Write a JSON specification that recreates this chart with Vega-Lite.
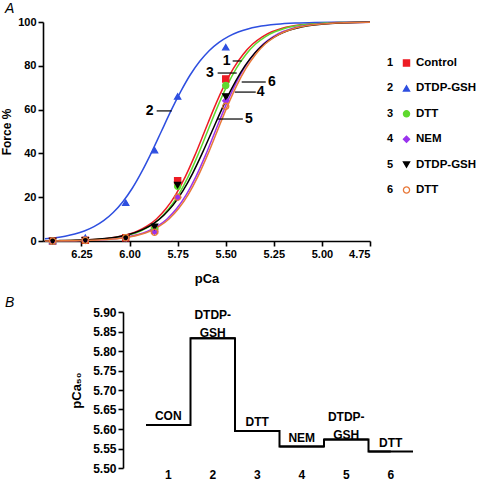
{
 "$schema": "https://vega.github.io/schema/vega-lite/v6.json",
 "padding": {"left": 0, "top": 2, "right": 0, "bottom": 0},
 "background": "white",
 "config": {
  "view": {"stroke": null},
  "font": "Liberation Sans",
  "axis": {"grid": false, "domainColor": "#000", "tickColor": "#000", "labelColor": "#000", "titleColor": "#000", "labelFontWeight": "bold", "titleFontWeight": "bold", "domainWidth": 1.6, "tickWidth": 1.6, "labelFont": "Liberation Sans", "titleFont": "Liberation Sans"},
  "title": {"font": "Liberation Sans", "color": "#000"}
 },
 "datasets": {
  "curves": [
   {"s":"1","p":6.44,"f":0.07},{"s":"1","p":6.41,"f":0.09},{"s":"1","p":6.31,"f":0.22},{"s":"1","p":6.21,"f":0.52},{"s":"1","p":6.11,"f":1.24},{"s":"1","p":6.06,"f":1.91},{"s":"1","p":6.01,"f":2.93},{"s":"1","p":5.96,"f":4.47},{"s":"1","p":5.91,"f":6.75},{"s":"1","p":5.86,"f":10.07},{"s":"1","p":5.81,"f":14.8},{"s":"1","p":5.76,"f":21.2},{"s":"1","p":5.71,"f":29.4},{"s":"1","p":5.66,"f":39.2},{"s":"1","p":5.61,"f":50},{"s":"1","p":5.56,"f":60.8},{"s":"1","p":5.51,"f":70.6},{"s":"1","p":5.46,"f":78.8},{"s":"1","p":5.41,"f":85.2},{"s":"1","p":5.36,"f":89.93},{"s":"1","p":5.31,"f":93.25},{"s":"1","p":5.26,"f":95.53},{"s":"1","p":5.21,"f":97.07},{"s":"1","p":5.16,"f":98.09},{"s":"1","p":5.11,"f":98.76},{"s":"1","p":5.01,"f":99.48},{"s":"1","p":4.91,"f":99.78},{"s":"1","p":4.81,"f":99.91},{"s":"1","p":4.75,"f":99.94},
   {"s":"2","p":6.44,"f":1.0},{"s":"2","p":6.385,"f":1.51},{"s":"2","p":6.335,"f":2.19},{"s":"2","p":6.285,"f":3.17},{"s":"2","p":6.235,"f":4.57},{"s":"2","p":6.185,"f":6.54},{"s":"2","p":6.135,"f":9.28},{"s":"2","p":6.085,"f":13.0},{"s":"2","p":6.035,"f":17.95},{"s":"2","p":5.985,"f":24.2},{"s":"2","p":5.935,"f":31.9},{"s":"2","p":5.885,"f":40.6},{"s":"2","p":5.835,"f":50},{"s":"2","p":5.785,"f":59.4},{"s":"2","p":5.735,"f":68.1},{"s":"2","p":5.685,"f":75.8},{"s":"2","p":5.635,"f":82.05},{"s":"2","p":5.585,"f":87.0},{"s":"2","p":5.535,"f":90.7},{"s":"2","p":5.485,"f":93.46},{"s":"2","p":5.435,"f":95.43},{"s":"2","p":5.385,"f":96.83},{"s":"2","p":5.335,"f":97.81},{"s":"2","p":5.235,"f":98.96},{"s":"2","p":5.135,"f":99.51},{"s":"2","p":5.035,"f":99.77},{"s":"2","p":4.935,"f":99.89},{"s":"2","p":4.75,"f":99.97},
   {"s":"3","p":6.44,"f":0.06},{"s":"3","p":6.395,"f":0.09},{"s":"3","p":6.295,"f":0.22},{"s":"3","p":6.195,"f":0.52},{"s":"3","p":6.095,"f":1.24},{"s":"3","p":6.045,"f":1.91},{"s":"3","p":5.995,"f":2.93},{"s":"3","p":5.945,"f":4.47},{"s":"3","p":5.895,"f":6.75},{"s":"3","p":5.845,"f":10.07},{"s":"3","p":5.795,"f":14.8},{"s":"3","p":5.745,"f":21.2},{"s":"3","p":5.695,"f":29.4},{"s":"3","p":5.645,"f":39.2},{"s":"3","p":5.595,"f":50},{"s":"3","p":5.545,"f":60.8},{"s":"3","p":5.495,"f":70.6},{"s":"3","p":5.445,"f":78.8},{"s":"3","p":5.395,"f":85.2},{"s":"3","p":5.345,"f":89.93},{"s":"3","p":5.295,"f":93.25},{"s":"3","p":5.245,"f":95.53},{"s":"3","p":5.195,"f":97.07},{"s":"3","p":5.145,"f":98.09},{"s":"3","p":5.095,"f":98.76},{"s":"3","p":4.995,"f":99.48},{"s":"3","p":4.895,"f":99.78},{"s":"3","p":4.795,"f":99.91},{"s":"3","p":4.75,"f":99.93},
   {"s":"4","p":6.44,"f":0.04},{"s":"4","p":6.355,"f":0.09},{"s":"4","p":6.255,"f":0.22},{"s":"4","p":6.155,"f":0.52},{"s":"4","p":6.055,"f":1.24},{"s":"4","p":6.005,"f":1.91},{"s":"4","p":5.955,"f":2.93},{"s":"4","p":5.905,"f":4.47},{"s":"4","p":5.855,"f":6.75},{"s":"4","p":5.805,"f":10.07},{"s":"4","p":5.755,"f":14.8},{"s":"4","p":5.705,"f":21.2},{"s":"4","p":5.655,"f":29.4},{"s":"4","p":5.605,"f":39.2},{"s":"4","p":5.555,"f":50},{"s":"4","p":5.505,"f":60.8},{"s":"4","p":5.455,"f":70.6},{"s":"4","p":5.405,"f":78.8},{"s":"4","p":5.355,"f":85.2},{"s":"4","p":5.305,"f":89.93},{"s":"4","p":5.255,"f":93.25},{"s":"4","p":5.205,"f":95.53},{"s":"4","p":5.155,"f":97.07},{"s":"4","p":5.105,"f":98.09},{"s":"4","p":5.055,"f":98.76},{"s":"4","p":4.955,"f":99.48},{"s":"4","p":4.855,"f":99.78},{"s":"4","p":4.75,"f":99.91},
   {"s":"5","p":6.44,"f":0.09},{"s":"5","p":6.372,"f":0.16},{"s":"5","p":6.272,"f":0.35},{"s":"5","p":6.172,"f":0.79},{"s":"5","p":6.072,"f":1.75},{"s":"5","p":6.022,"f":2.59},{"s":"5","p":5.972,"f":3.83},{"s":"5","p":5.922,"f":5.62},{"s":"5","p":5.872,"f":8.18},{"s":"5","p":5.822,"f":11.76},{"s":"5","p":5.772,"f":16.6},{"s":"5","p":5.722,"f":23.0},{"s":"5","p":5.672,"f":30.9},{"s":"5","p":5.622,"f":40.1},{"s":"5","p":5.572,"f":50},{"s":"5","p":5.522,"f":59.9},{"s":"5","p":5.472,"f":69.1},{"s":"5","p":5.422,"f":77.0},{"s":"5","p":5.372,"f":83.4},{"s":"5","p":5.322,"f":88.24},{"s":"5","p":5.272,"f":91.82},{"s":"5","p":5.222,"f":94.38},{"s":"5","p":5.172,"f":96.17},{"s":"5","p":5.122,"f":97.41},{"s":"5","p":5.072,"f":98.25},{"s":"5","p":4.972,"f":99.21},{"s":"5","p":4.872,"f":99.65},{"s":"5","p":4.772,"f":99.84},{"s":"5","p":4.75,"f":99.86},
   {"s":"6","p":6.44,"f":0.04},{"s":"6","p":6.345,"f":0.09},{"s":"6","p":6.245,"f":0.22},{"s":"6","p":6.145,"f":0.52},{"s":"6","p":6.045,"f":1.24},{"s":"6","p":5.995,"f":1.91},{"s":"6","p":5.945,"f":2.93},{"s":"6","p":5.895,"f":4.47},{"s":"6","p":5.845,"f":6.75},{"s":"6","p":5.795,"f":10.07},{"s":"6","p":5.745,"f":14.8},{"s":"6","p":5.695,"f":21.2},{"s":"6","p":5.645,"f":29.4},{"s":"6","p":5.595,"f":39.2},{"s":"6","p":5.545,"f":50},{"s":"6","p":5.495,"f":60.8},{"s":"6","p":5.445,"f":70.6},{"s":"6","p":5.395,"f":78.8},{"s":"6","p":5.345,"f":85.2},{"s":"6","p":5.295,"f":89.93},{"s":"6","p":5.245,"f":93.25},{"s":"6","p":5.195,"f":95.53},{"s":"6","p":5.145,"f":97.07},{"s":"6","p":5.095,"f":98.09},{"s":"6","p":5.045,"f":98.76},{"s":"6","p":4.945,"f":99.48},{"s":"6","p":4.845,"f":99.78},{"s":"6","p":4.75,"f":99.9}
  ],
  "points": [
   {"s":"1","p":6.4,"f":0},{"s":"1","p":6.23,"f":0.3},{"s":"1","p":6.02,"f":1.5},{"s":"1","p":5.87,"f":5},{"s":"1","p":5.75,"f":27.5},{"s":"1","p":5.5,"f":74},
   {"s":"2","p":6.4,"f":0},{"s":"2","p":6.23,"f":1.5},{"s":"2","p":6.02,"f":17.5},{"s":"2","p":5.87,"f":41.5},{"s":"2","p":5.75,"f":66},{"s":"2","p":5.5,"f":88.5},
   {"s":"3","p":6.4,"f":0},{"s":"3","p":6.23,"f":0.3},{"s":"3","p":6.02,"f":1.5},{"s":"3","p":5.87,"f":5.5},{"s":"3","p":5.75,"f":25},{"s":"3","p":5.5,"f":71},
   {"s":"4","p":6.4,"f":0},{"s":"4","p":6.23,"f":0.3},{"s":"4","p":6.02,"f":1.2},{"s":"4","p":5.87,"f":4.5},{"s":"4","p":5.75,"f":20},{"s":"4","p":5.5,"f":64},
   {"s":"5","p":6.4,"f":0},{"s":"5","p":6.23,"f":0.3},{"s":"5","p":6.02,"f":1.2},{"s":"5","p":5.87,"f":6.5},{"s":"5","p":5.75,"f":25.5},{"s":"5","p":5.5,"f":66},
   {"s":"6","p":6.4,"f":0},{"s":"6","p":6.23,"f":0.3},{"s":"6","p":6.02,"f":1.5},{"s":"6","p":5.87,"f":4},{"s":"6","p":5.75,"f":20},{"s":"6","p":5.5,"f":61.5}
  ],
  "labels": [
   {"t":"1","p":5.495,"f":82.2},{"t":"3","p":5.583,"f":76.7},{"t":"2","p":5.896,"f":59.4},{"t":"4","p":5.318,"f":68},{"t":"6","p":5.26,"f":72.6},{"t":"5","p":5.38,"f":55.7}
  ],
  "leaders": [
   {"a":5.464,"b":5.417,"f":82.2},{"a":5.542,"b":5.443,"f":76.7},{"a":5.859,"b":5.781,"f":59.4},{"a":5.453,"b":5.344,"f":68},{"a":5.417,"b":5.292,"f":72.6},{"a":5.542,"b":5.411,"f":55.7}
  ],
  "legend": [
   {"s":"1","name":"Control"},{"s":"2","name":"DTDP-GSH"},{"s":"3","name":"DTT"},{"s":"4","name":"NEM"},{"s":"5","name":"DTDP-GSH"},{"s":"6","name":"DTT"}
  ],
  "pca50": [
   {"i":"1","v":5.61,"lab":"CON"},{"i":"2","v":5.833,"lab":"DTDP-\nGSH"},{"i":"3","v":5.595,"lab":"DTT"},{"i":"4","v":5.555,"lab":"NEM"},{"i":"5","v":5.573,"lab":"DTDP-\nGSH"},{"i":"6","v":5.542,"lab":"DTT"}
  ]
 },
 "spacing": 11,
 "vconcat": [
  {
   "width": 327, "height": 219,
   "title": {"text": "A", "anchor": "start", "frame": "group", "dx": -38, "offset": 0, "fontSize": 14, "fontStyle": "italic", "fontWeight": "normal"},
   "resolve": {"scale": {"y": "independent"}},
   "layer": [
    {
     "layer": [
      {
       "data": {"name": "curves"},
       "mark": {"type": "line", "interpolate": "monotone", "strokeWidth": 1.5},
       "encoding": {
        "x": {"field": "p", "type": "quantitative", "scale": {"domain": [4.75, 6.45], "reverse": true, "nice": false, "zero": false},
              "axis": {"values": [6.25, 6.0, 5.75, 5.5, 5.25, 5.0, 4.75], "format": ".2f", "title": "pCa", "labelFontSize": 11, "titleFontSize": 13, "tickSize": 5, "labelPadding": 2, "titlePadding": 13}},
        "y": {"field": "f", "type": "quantitative", "scale": {"domain": [0, 100], "nice": false},
              "axis": {"values": [0, 20, 40, 60, 80, 100], "title": "Force %", "labelFontSize": 11, "titleFontSize": 12, "tickSize": 5, "labelPadding": 2, "titlePadding": 4}},
        "stroke": {"field": "s", "type": "nominal", "scale": {"domain": ["1","2","3","4","5","6"], "range": ["#ed1c24","#2e4fe0","#5fd92e","#9a33ee","#000000","#e8793a"]}, "legend": null}
       }
      },
      {
       "data": {"name": "points"},
       "mark": {"type": "point", "size": 38, "strokeWidth": 1.3, "opacity": 1},
       "encoding": {
        "x": {"field": "p", "type": "quantitative"},
        "y": {"field": "f", "type": "quantitative"},
        "shape": {"field": "s", "type": "nominal", "scale": {"domain": ["1","2","3","4","5","6"], "range": ["square","triangle-up","circle","diamond","triangle-down","circle"]}, "legend": null},
        "fill": {"field": "s", "type": "nominal", "scale": {"domain": ["1","2","3","4","5","6"], "range": ["#ed1c24","#2e4fe0","#5fd92e","#9a33ee","#000000","transparent"]}, "legend": null},
        "stroke": {"field": "s", "type": "nominal", "legend": null}
       }
      },
      {
       "data": {"name": "leaders"},
       "mark": {"type": "rule", "color": "#000", "strokeWidth": 1.2},
       "encoding": {
        "x": {"field": "a", "type": "quantitative"},
        "x2": {"field": "b"},
        "y": {"field": "f", "type": "quantitative"}
       }
      },
      {
       "data": {"name": "labels"},
       "mark": {"type": "text", "fontSize": 14, "fontWeight": "bold", "color": "#000", "align": "center", "baseline": "middle"},
       "encoding": {
        "x": {"field": "p", "type": "quantitative"},
        "y": {"field": "f", "type": "quantitative"},
        "text": {"field": "t"}
       }
      }
     ]
    },
    {
     "data": {"name": "legend"},
     "encoding": {
      "y": {"field": "s", "type": "ordinal", "scale": {"type": "point", "padding": 0, "range": [41, 168]}, "axis": null}
     },
     "layer": [
      {
       "mark": {"type": "text", "dx": 183.5, "align": "center", "baseline": "middle", "fontSize": 11, "fontWeight": "bold", "color": "#000"},
       "encoding": {"text": {"field": "s"}}
      },
      {
       "mark": {"type": "point", "xOffset": 200, "size": 38, "strokeWidth": 1.3, "opacity": 1},
       "encoding": {
        "shape": {"field": "s", "type": "nominal", "legend": null},
        "fill": {"field": "s", "type": "nominal", "legend": null},
        "stroke": {"field": "s", "type": "nominal", "legend": null}
       }
      },
      {
       "mark": {"type": "text", "dx": 209.5, "align": "left", "baseline": "middle", "fontSize": 11.5, "fontWeight": "bold", "color": "#000"},
       "encoding": {"text": {"field": "name"}}
      }
     ]
    }
   ]
  },
  {
   "width": 393, "height": 156,
   "title": {"text": "B", "anchor": "start", "frame": "group", "dx": -38, "offset": -4, "fontSize": 14, "fontStyle": "italic", "fontWeight": "normal"},
   "data": {"name": "pca50"},
   "encoding": {
    "x": {"field": "i", "type": "ordinal", "scale": {"paddingInner": 0, "paddingOuter": 0, "range": [103, 370]},
          "axis": {"title": null, "domain": false, "ticks": false, "labelAngle": 0, "labelFontSize": 12, "labelPadding": 1}},
    "y": {"field": "v", "type": "quantitative", "scale": {"domain": [5.5, 5.9], "nice": false, "zero": false},
          "axis": {"offset": -80, "values": [5.5, 5.55, 5.6, 5.65, 5.7, 5.75, 5.8, 5.85, 5.9], "format": ".2f", "title": "pCa₅₀", "labelFontSize": 12, "titleFontSize": 13, "tickSize": 5, "labelPadding": 2, "titlePadding": 9}}
   },
   "layer": [
    {"mark": {"type": "line", "interpolate": "step", "color": "#000", "strokeWidth": 2}},
    {"mark": {"type": "tick", "color": "#000", "thickness": 2, "size": 44.5, "opacity": 1}},
    {"transform": [{"filter": "datum.i != '2' && datum.i != '5'"}],
     "mark": {"type": "text", "baseline": "bottom", "dy": -2, "fontSize": 12, "fontWeight": "bold", "color": "#000"},
     "encoding": {"text": {"field": "lab"}}},
    {"transform": [{"filter": "datum.i == '2' || datum.i == '5'"}],
     "mark": {"type": "text", "baseline": "bottom", "dy": -16, "fontSize": 12, "fontWeight": "bold", "color": "#000", "lineBreak": "\n", "lineHeight": 18},
     "encoding": {"text": {"field": "lab"}}}
   ]
  }
 ]
}
